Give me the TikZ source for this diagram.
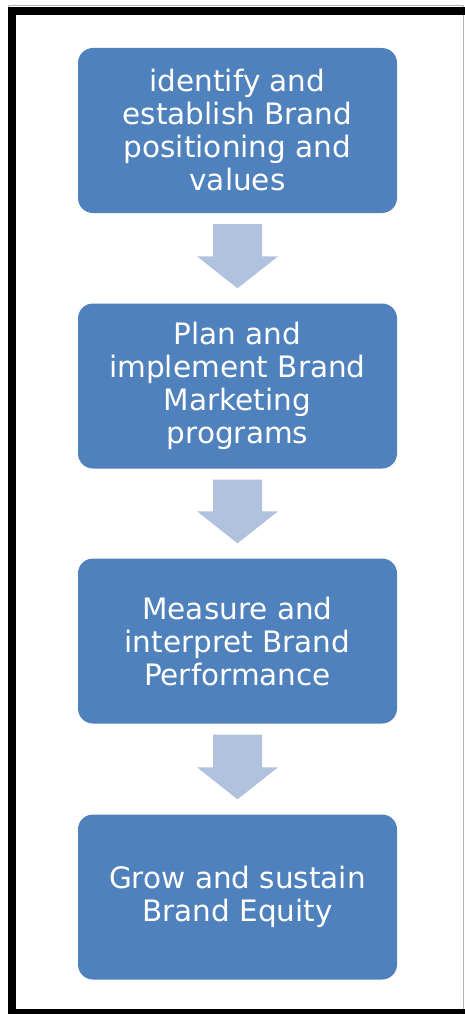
\documentclass[tikz,border=0pt]{standalone}
\usepackage{fontspec}
\setmainfont{DejaVu Sans}
\usetikzlibrary{calc}
\definecolor{boxblue}{HTML}{4F81BD}
\definecolor{arrowblue}{HTML}{B1C2DE}
\definecolor{edgegray}{HTML}{B4B4B4}
\tikzset{
  stepbox/.style={rectangle, rounded corners=15pt, fill=boxblue, draw=none,
    minimum width=319pt, minimum height=165pt, text=white, align=center,
    font=\fontsize{29.5}{33}\selectfont},
  flowarrow/.style={fill=arrowblue, draw=none}
}
\begin{document}
\begin{tikzpicture}[x=1pt,y=-1pt]
  \useasboundingbox (0,0) rectangle (465,1014);
  \begin{scope}
    \clip (0,0) rectangle (465,1014);
    \fill[white] (0,0) rectangle (465,1014);
    % thin outer edge
    \draw[edgegray, line width=1pt] (8,6) rectangle (463,1020);
    % heavy black frame
    \draw[black, line width=8pt] (12,11) rectangle (480,1013);
    \fill[white] (16,15) rectangle (462,1009);
    \draw[edgegray, line width=1pt] (463,15) -- (463,1009);
  \end{scope}

  \node[stepbox] (b1) at (237.5,130.5) {identify and\\establish Brand\\positioning and\\values};
  \node[stepbox] (b2) at (237.5,386) {Plan and\\implement Brand\\Marketing\\programs};
  \node[stepbox] (b3) at (237.5,641) {Measure and\\interpret Brand\\Performance};
  \node[stepbox] (b4) at (237.5,897) {Grow and sustain\\Brand Equity};

  % block arrows between steps
  \foreach \u/\v in {b1/b2,b2/b3,b3/b4}{
    \coordinate (s) at ($(\u.south)+(0,11)$);
    \coordinate (t) at ($(\v.north)+(0,-15)$);
    \fill[flowarrow] ($(s)+(-24.5,0)$) -- ($(s)+(24.5,0)$) -- ($(t)+(24.5,-32)$)
      -- ($(t)+(40.5,-32)$) -- (t) -- ($(t)+(-40.5,-32)$) -- ($(t)+(-24.5,-32)$) -- cycle;
  }
\end{tikzpicture}
\end{document}
